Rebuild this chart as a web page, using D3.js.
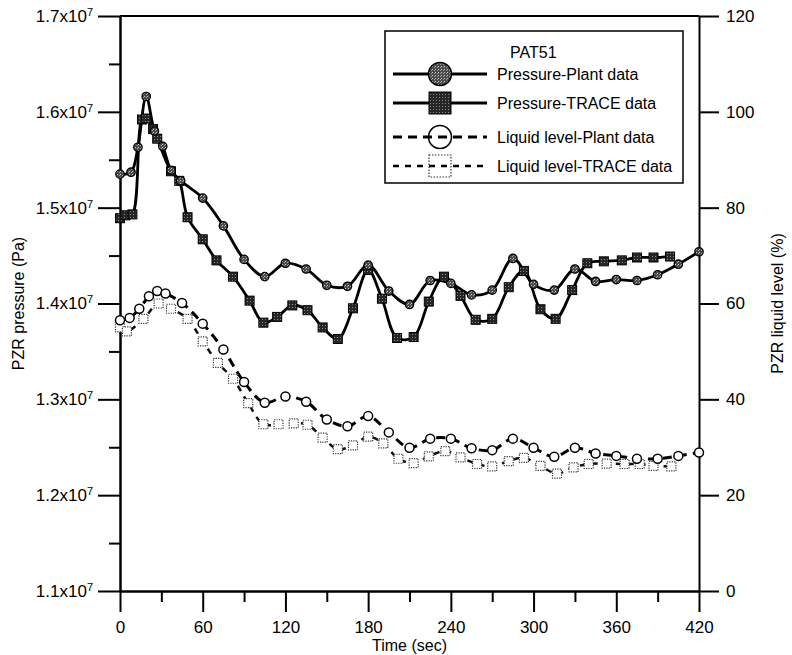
<!DOCTYPE html>
<html lang="en">
<head>
<meta charset="utf-8">
<title>PAT51 pressurizer</title>
<script src="https://cdn.jsdelivr.net/npm/d3@7/dist/d3.min.js"></script>
<style>
  body { margin: 0; background: #fff; }
  svg { font-family: Arial, "Liberation Sans", sans-serif; }
  .axis path, .axis line { stroke: #000; stroke-width: 2; fill: none; }
  .axis text { font-size: 17px; fill: #000; }
  .ttl { font-size: 16px; fill: #000; }
  .leg text { font-size: 16px; fill: #000; }
</style>
</head>
<body>
<script>
// time (s) / value pairs
var ppTime = [0, 8, 13, 19, 25, 31, 37, 44, 60, 75, 90, 105, 120, 135, 150, 165, 180, 195, 210, 225, 240, 255, 270, 285, 300, 315, 330, 345, 360, 375, 390, 405, 420];
var ppVal  = [1.535, 1.537, 1.563, 1.616, 1.580, 1.564, 1.539, 1.528, 1.510, 1.481, 1.446, 1.428, 1.442, 1.436, 1.419, 1.418, 1.440, 1.413, 1.399, 1.424, 1.421, 1.409, 1.414, 1.447, 1.420, 1.414, 1.436, 1.423, 1.425, 1.424, 1.430, 1.441, 1.454];

var ptTime = [0, 4, 9, 16, 19, 24, 27, 37, 43, 49, 60, 70, 82, 94, 104, 114, 125, 136, 147, 158, 169, 180, 190, 201, 213, 224, 235, 247, 258, 270, 282, 293, 305, 316, 328, 339, 351, 364, 375, 387, 399];
var ptVal  = [1.489, 1.492, 1.493, 1.592, 1.593, 1.582, 1.572, 1.538, 1.528, 1.490, 1.467, 1.445, 1.428, 1.403, 1.380, 1.386, 1.398, 1.393, 1.375, 1.363, 1.395, 1.435, 1.405, 1.364, 1.365, 1.402, 1.428, 1.408, 1.383, 1.384, 1.417, 1.434, 1.394, 1.384, 1.414, 1.442, 1.444, 1.445, 1.448, 1.448, 1.449];

var lpTime = [0, 7, 14, 21, 27, 33, 45, 60, 75, 90, 105, 120, 135, 150, 165, 180, 195, 210, 225, 240, 255, 270, 285, 300, 315, 330, 345, 360, 375, 390, 405, 420];
var lpVal  = [56.5, 57, 58.9, 61.5, 62.6, 62.1, 60.1, 55.8, 50.4, 43.6, 39.3, 40.6, 39.5, 35.8, 34.4, 36.5, 33.1, 29.9, 31.8, 31.8, 29.8, 29.4, 31.8, 29.9, 28, 29.9, 28.7, 28.2, 27.6, 27.6, 28.2, 28.9];

var ltTime = [0, 5, 17, 28, 37, 49, 60, 71, 82, 93, 104, 115, 126, 136, 147, 158, 169, 180, 191, 202, 213, 224, 236, 247, 259, 270, 282, 293, 305, 317, 329, 340, 353, 366, 377, 387, 400];
var ltVal  = [55, 54.2, 56.8, 60, 58.9, 56.8, 52.1, 47.6, 44.3, 39.2, 34.8, 34.8, 35, 34.7, 32, 29.6, 30.4, 32.2, 30.8, 27.6, 26.7, 28.1, 29.2, 27.9, 26.5, 26, 27.1, 27.8, 26.1, 24.5, 25.8, 26.5, 26.6, 26.5, 26.5, 26.1, 26];

var xTicks = [0, 60, 120, 180, 240, 300, 360, 420];
var pTicks = [1.1, 1.2, 1.3, 1.4, 1.5, 1.6, 1.7];
var lTicks = [0, 20, 40, 60, 80, 100, 120];
var legendNames = ["Pressure-Plant data", "Pressure-TRACE data", "Liquid level-Plant data", "Liquid level-TRACE data"];

var width = 792, height = 655;
var svg = d3.select("body").append("svg")
    .attr("width", width)
    .attr("height", height);

// speckled grey fill for the "plant" pressure symbols
var defs = svg.append("defs");
var pat = defs.append("pattern")
    .attr("id", "speck")
    .attr("width", 3).attr("height", 3)
    .attr("patternUnits", "userSpaceOnUse");
pat.append("rect").attr("width", 3).attr("height", 3).attr("fill", "#4a4a4a");
pat.append("rect").attr("x", 0).attr("y", 0).attr("width", 1).attr("height", 1).attr("fill", "#c8c8c8");
pat.append("rect").attr("x", 2).attr("y", 1).attr("width", 1).attr("height", 1).attr("fill", "#9a9a9a");
var pat2 = defs.append("pattern")
    .attr("id", "speckDark")
    .attr("width", 3).attr("height", 3)
    .attr("patternUnits", "userSpaceOnUse");
pat2.append("rect").attr("width", 3).attr("height", 3).attr("fill", "#262626");
pat2.append("rect").attr("x", 1).attr("y", 1).attr("width", 1).attr("height", 1).attr("fill", "#8a8a8a");

var x = d3.scaleLinear().domain([0, 420]).range([120, 699]);
var yP = d3.scaleLinear().domain([1.1, 1.7]).range([591, 16]);
var yL = d3.scaleLinear().domain([0, 120]).range([591, 16]);

// top frame line
svg.append("line")
    .attr("x1", x(0)).attr("x2", x(420))
    .attr("y1", yP(1.7)).attr("y2", yP(1.7))
    .attr("stroke", "#000").attr("stroke-width", 2);

// bottom axis
svg.append("g").attr("class", "axis")
    .attr("transform", "translate(0," + yP(1.1) + ")")
    .call(d3.axisBottom(x).tickValues(d3.range(30, 420, 60)).tickSize(11).tickSizeOuter(0).tickFormat(""));
svg.append("g").attr("class", "axis")
    .attr("transform", "translate(0," + yP(1.1) + ")")
    .call(d3.axisBottom(x).tickValues(xTicks).tickSize(21).tickSizeOuter(0).tickPadding(9));

// left axis
svg.append("g").attr("class", "axis")
    .attr("transform", "translate(" + x(0) + ",0)")
    .call(d3.axisLeft(yP).tickValues(d3.range(1.15, 1.7, 0.1)).tickSize(11).tickSizeOuter(0).tickFormat(""));
var leftAx = svg.append("g").attr("class", "axis")
    .attr("transform", "translate(" + x(0) + ",0)")
    .call(d3.axisLeft(yP).tickValues(pTicks).tickSize(22).tickSizeOuter(0).tickPadding(5));
leftAx.selectAll(".tick text").each(function(d) {
    var t = d3.select(this);
    t.text(null);
    t.append("tspan").text(d.toFixed(1) + "x10");
    t.append("tspan").attr("dy", "-0.55em").attr("font-size", "11px").text("7");
});

// right axis
svg.append("g").attr("class", "axis")
    .attr("transform", "translate(" + x(420) + ",0)")
    .call(d3.axisRight(yL).tickValues(lTicks).tickSize(20).tickSizeOuter(0).tickPadding(7));

// axis titles
svg.append("text").attr("class", "ttl")
    .attr("text-anchor", "middle")
    .attr("x", x(210)).attr("y", 651)
    .text("Time (sec)");
svg.append("text").attr("class", "ttl")
    .attr("text-anchor", "middle")
    .attr("transform", "translate(24," + yP(1.4) + ")rotate(-90)")
    .text("PZR pressure (Pa)");
svg.append("text").attr("class", "ttl")
    .attr("text-anchor", "middle")
    .attr("transform", "translate(783," + yP(1.4) + ")rotate(-90)")
    .text("PZR liquid level (%)");

function pairs(ts, vs) {
    return ts.map(function(t, i) { return [t, vs[i]]; });
}
var ppData = pairs(ppTime, ppVal);
var ptData = pairs(ptTime, ptVal);
var lpData = pairs(lpTime, lpVal);
var ltData = pairs(ltTime, ltVal);

var lineP = d3.line().x(function(d) { return x(d[0]); }).y(function(d) { return yP(d[1]); }).curve(d3.curveCatmullRom);
var lineL = d3.line().x(function(d) { return x(d[0]); }).y(function(d) { return yL(d[1]); }).curve(d3.curveCatmullRom);

var plot = svg.append("g");

// level curves (dashed)
plot.append("path").datum(ltData)
    .attr("d", lineL).attr("fill", "none")
    .attr("stroke", "#111").attr("stroke-width", 2.5).attr("stroke-dasharray", "6,6");
plot.append("path").datum(lpData)
    .attr("d", lineL).attr("fill", "none")
    .attr("stroke", "#000").attr("stroke-width", 3).attr("stroke-dasharray", "9,6");

// pressure curves (solid)
plot.append("path").datum(ptData)
    .attr("d", lineP).attr("fill", "none")
    .attr("stroke", "#000").attr("stroke-width", 2.8);
plot.append("path").datum(ppData)
    .attr("d", lineP).attr("fill", "none")
    .attr("stroke", "#000").attr("stroke-width", 2.8);

// markers
plot.selectAll(".ltm").data(ltData).enter().append("rect")
    .attr("x", function(d) { return x(d[0]) - 4.5; })
    .attr("y", function(d) { return yL(d[1]) - 4.5; })
    .attr("width", 9).attr("height", 9)
    .attr("fill", "#fff").attr("stroke", "#333")
    .attr("stroke-width", 1.2).attr("stroke-dasharray", "1.2,1.2");
plot.selectAll(".lpm").data(lpData).enter().append("circle")
    .attr("cx", function(d) { return x(d[0]); })
    .attr("cy", function(d) { return yL(d[1]); })
    .attr("r", 4.5)
    .attr("fill", "#fff").attr("stroke", "#000").attr("stroke-width", 1.5);
plot.selectAll(".ptm").data(ptData).enter().append("rect")
    .attr("x", function(d) { return x(d[0]) - 4.5; })
    .attr("y", function(d) { return yP(d[1]) - 4.5; })
    .attr("width", 9).attr("height", 9)
    .attr("fill", "url(#speckDark)").attr("stroke", "#000").attr("stroke-width", 1);
plot.selectAll(".ppm").data(ppData).enter().append("circle")
    .attr("cx", function(d) { return x(d[0]); })
    .attr("cy", function(d) { return yP(d[1]); })
    .attr("r", 4.2)
    .attr("fill", "url(#speck)").attr("stroke", "#000").attr("stroke-width", 1.3);

// legend
var leg = svg.append("g").attr("class", "leg");
leg.append("rect")
    .attr("x", 385).attr("y", 31).attr("width", 298).attr("height", 152)
    .attr("fill", "#fff").attr("stroke", "#000").attr("stroke-width", 1.5);
leg.append("text").attr("x", 510).attr("y", 58).text("PAT51");

var rowY = [74, 103, 137, 166];
var lineStyles = [
    {w: 2.8, dash: null},
    {w: 2.8, dash: null},
    {w: 3, dash: "9,6"},
    {w: 2.5, dash: "6,6"}
];
legendNames.forEach(function(name, i) {
    var yy = rowY[i];
    var ln = leg.append("line")
        .attr("x1", 393).attr("x2", 487)
        .attr("y1", yy).attr("y2", yy)
        .attr("stroke", "#000").attr("stroke-width", lineStyles[i].w);
    if (lineStyles[i].dash) ln.attr("stroke-dasharray", lineStyles[i].dash);
    if (i === 0) {
        leg.append("circle").attr("cx", 440).attr("cy", yy).attr("r", 11.5)
            .attr("fill", "url(#speck)").attr("stroke", "#000").attr("stroke-width", 1.5);
    } else if (i === 1) {
        leg.append("rect").attr("x", 429).attr("y", yy - 11).attr("width", 22).attr("height", 22)
            .attr("fill", "url(#speckDark)").attr("stroke", "#000").attr("stroke-width", 1);
    } else if (i === 2) {
        leg.append("circle").attr("cx", 440).attr("cy", yy).attr("r", 11.5)
            .attr("fill", "none").attr("stroke", "#000").attr("stroke-width", 1.5);
    } else {
        leg.append("rect").attr("x", 429).attr("y", yy - 11).attr("width", 22).attr("height", 22)
            .attr("fill", "none").attr("stroke", "#333").attr("stroke-width", 1.2).attr("stroke-dasharray", "1.5,1.5");
    }
    leg.append("text").attr("x", 497).attr("y", yy + 6).text(name);
});
</script>
</body>
</html>
